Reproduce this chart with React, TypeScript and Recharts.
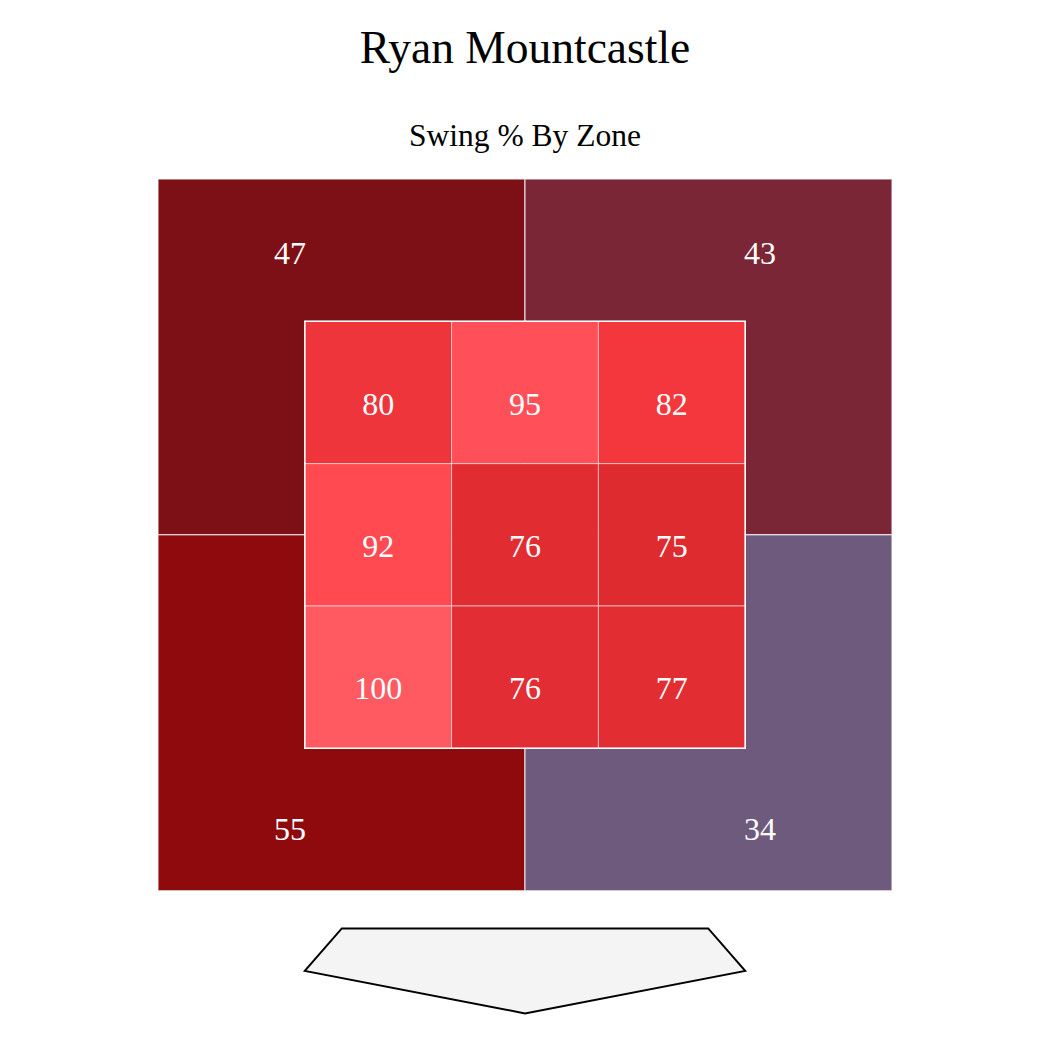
import React from 'react';
import {
  ComposedChart,
  XAxis,
  YAxis,
  Scatter,
  ReferenceArea,
} from 'recharts';

// zone grid in "zone units": inner strike zone spans 0..3 on both axes,
// the four outer (chase) zones extend one unit beyond it
const innerCols = [0, 1, 2, 0, 1, 2, 0, 1, 2];
const innerRows = [2, 2, 2, 1, 1, 1, 0, 0, 0];
const innerValues = [80, 95, 82, 92, 76, 75, 100, 76, 77];
const innerColors = [
  '#ee353b', '#ff4f59', '#f4363d',
  '#ff4a52', '#e12d32', '#dd2b30',
  '#ff5962', '#e12d33', '#e22e33',
];

const outerX1 = [-1, 1.5, -1, 1.5];
const outerY1 = [1.5, 1.5, -1, -1];
const outerValues = [47, 43, 55, 34];
const outerColors = ['#7d1016', '#7a2636', '#8f0a0c', '#6e5a7d'];
// where the outer labels sit
const outerLabelX = [-0.1, 3.1, -0.1, 3.1];
const outerLabelY = [3.56, 3.56, -0.49, -0.49];

const serif = '"Liberation Serif", "Times New Roman", serif';

const labelData = [
  ...innerValues.map((v, i) => ({ x: innerCols[i] + 0.5, y: innerRows[i] + 0.5, value: v })),
  ...outerValues.map((v, i) => ({ x: outerLabelX[i], y: outerLabelY[i], value: v })),
];

const ZoneLabel = (props: any) => {
  const { cx, cy, payload } = props;
  return (
    <text
      x={cx}
      y={cy + 22}
      textAnchor="middle"
      fill="#fff"
      fontSize={32}
      fontFamily={serif}
    >
      {payload.value}
    </text>
  );
};

// home plate, drawn relative to its bounding box
const HomePlate = (props: any) => {
  const { x, y, width, height } = props;
  const pts = [
    [x + width * 0.084, y],
    [x + width * 0.916, y],
    [x + width, y + height * 0.5],
    [x + width / 2, y + height],
    [x, y + height * 0.5],
  ]
    .map((p) => p.join(','))
    .join(' ');
  return <polygon points={pts} fill="#f4f4f4" stroke="#000" strokeWidth={2} />;
};

export default function App() {
  return (
    <div style={{ position: 'absolute', left: 0, top: 0, width: 1050, height: 1050, background: '#fff' }}>
      <svg
        width={1050}
        height={170}
        style={{ position: 'absolute', left: 0, top: 0, pointerEvents: 'none' }}
      >
        <text x={525} y={63} textAnchor="middle" fontSize={45.5} fontFamily={serif} fill="#000">
          Ryan Mountcastle
        </text>
        <text x={525} y={146} textAnchor="middle" fontSize={31.5} fontFamily={serif} fill="#000">
          Swing % By Zone
        </text>
      </svg>
      <div style={{ position: 'absolute', left: 0, top: 0 }}>
        <ComposedChart
          width={1050}
          height={1050}
          margin={{ top: 179, right: 158, bottom: 17, left: 158 }}
        >
          <XAxis type="number" dataKey="x" domain={[-1, 4]} hide allowDataOverflow />
          <YAxis type="number" dataKey="y" domain={[-2, 4]} hide allowDataOverflow />
          {outerValues.map((v, i) => (
            <ReferenceArea
              key={`o${i}`}
              x1={outerX1[i]}
              x2={outerX1[i] + 2.5}
              y1={outerY1[i]}
              y2={outerY1[i] + 2.5}
              fill={outerColors[i]}
              fillOpacity={1}
              stroke="#fff"
              strokeOpacity={0.6}
              strokeWidth={1.5}
            />
          ))}
          {innerValues.map((v, i) => (
            <ReferenceArea
              key={`i${i}`}
              x1={innerCols[i]}
              x2={innerCols[i] + 1}
              y1={innerRows[i]}
              y2={innerRows[i] + 1}
              fill={innerColors[i]}
              fillOpacity={1}
              stroke="#fff"
              strokeOpacity={0.55}
              strokeWidth={1}
            />
          ))}
          <ReferenceArea
            x1={0}
            x2={3}
            y1={0}
            y2={3}
            fill="none"
            fillOpacity={0}
            stroke="#fff"
            strokeWidth={1.5}
          />
          <ReferenceArea
            x1={0}
            x2={3}
            y1={-1.862}
            y2={-1.265}
            shape={HomePlate}
          />
          <Scatter data={labelData} shape={ZoneLabel} isAnimationActive={false} />
        </ComposedChart>
      </div>
    </div>
  );
}
